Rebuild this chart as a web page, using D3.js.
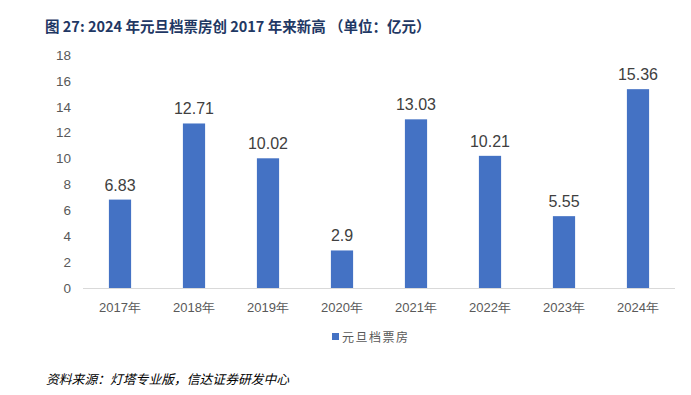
<!DOCTYPE html>
<html>
<head>
<meta charset="utf-8">
<script src="https://cdn.jsdelivr.net/npm/d3@7"></script>
<style>
  body { margin: 0; background: #fff; }
  svg { display: block; }
</style>
</head>
<body>
<svg id="chart" width="691" height="395"></svg>
<script>
// data
const years = ["2017年", "2018年", "2019年", "2020年", "2021年", "2022年", "2023年", "2024年"];
const boxOffice = [6.83, 12.71, 10.02, 2.9, 13.03, 10.21, 5.55, 15.36];
const yTicks = [0, 2, 4, 6, 8, 10, 12, 14, 16, 18];

const svg = d3.select("#chart");
const margin = { left: 83, right: 16, top: 55, bottom: 107 };
const W = 691, H = 395;

const x = d3.scaleBand()
  .domain(years)
  .range([margin.left, W - margin.right])
  .paddingInner(0.7)
  .paddingOuter(0.35);

const y = d3.scaleLinear()
  .domain([0, 18])
  .range([H - margin.bottom, margin.top]);

const cjk = "'Noto Sans CJK SC', 'Noto Sans', sans-serif";
const num = "'Liberation Sans', Arial, sans-serif";

// title
svg.append("text")
  .attr("x", 45)
  .attr("y", 32)
  .style("font-family", cjk)
  .style("font-weight", "bold")
  .style("font-size", "14.5px")
  .style("fill", "#1f3864")
  .text("图 27: 2024 年元旦档票房创 2017 年来新高 （单位：亿元）");

// y axis labels
svg.append("g")
  .selectAll("text")
  .data(yTicks)
  .join("text")
  .attr("x", 71)
  .attr("y", d => y(d))
  .attr("dy", "0.35em")
  .attr("text-anchor", "end")
  .style("font-family", num)
  .style("font-size", "13.5px")
  .style("fill", "#595959")
  .text(d => d);

// x axis line
svg.append("line")
  .attr("x1", margin.left)
  .attr("x2", W - margin.right)
  .attr("y1", y(0) + 0.5)
  .attr("y2", y(0) + 0.5)
  .style("stroke", "#d9d9d9")
  .style("stroke-width", 1);

// bars
svg.append("g")
  .selectAll("rect")
  .data(boxOffice)
  .join("rect")
  .attr("x", (d, i) => x(years[i]))
  .attr("y", d => y(d))
  .attr("width", x.bandwidth())
  .attr("height", d => y(0) - y(d))
  .style("fill", "#4472c4");

// value labels
svg.append("g")
  .selectAll("text")
  .data(boxOffice)
  .join("text")
  .attr("x", (d, i) => x(years[i]) + x.bandwidth() / 2)
  .attr("y", d => y(d) - 9)
  .attr("text-anchor", "middle")
  .style("font-family", num)
  .style("font-size", "16px")
  .style("fill", "#404040")
  .text(d => d);

// category labels
svg.append("g")
  .selectAll("text")
  .data(years)
  .join("text")
  .attr("x", d => x(d) + x.bandwidth() / 2)
  .attr("y", y(0) + 24)
  .attr("text-anchor", "middle")
  .style("font-family", num)
  .style("font-size", "13px")
  .style("fill", "#595959")
  .text(d => d);

// legend
const legend = svg.append("g").attr("transform", "translate(332,338)");
legend.append("rect")
  .attr("x", 0).attr("y", -5)
  .attr("width", 7).attr("height", 7)
  .style("fill", "#4472c4");
legend.append("text")
  .attr("x", 10)
  .attr("y", 0)
  .attr("dy", "0.35em")
  .style("font-family", cjk)
  .style("font-size", "12px")
  .style("letter-spacing", "1.5px")
  .style("fill", "#595959")
  .text("元旦档票房");

// source
svg.append("text")
  .attr("x", 46)
  .attr("y", 384)
  .style("font-family", cjk)
  .style("font-style", "italic")
  .style("font-size", "12.8px")
  .style("fill", "#000")
  .text("资料来源：灯塔专业版，信达证券研发中心");
</script>
</body>
</html>
